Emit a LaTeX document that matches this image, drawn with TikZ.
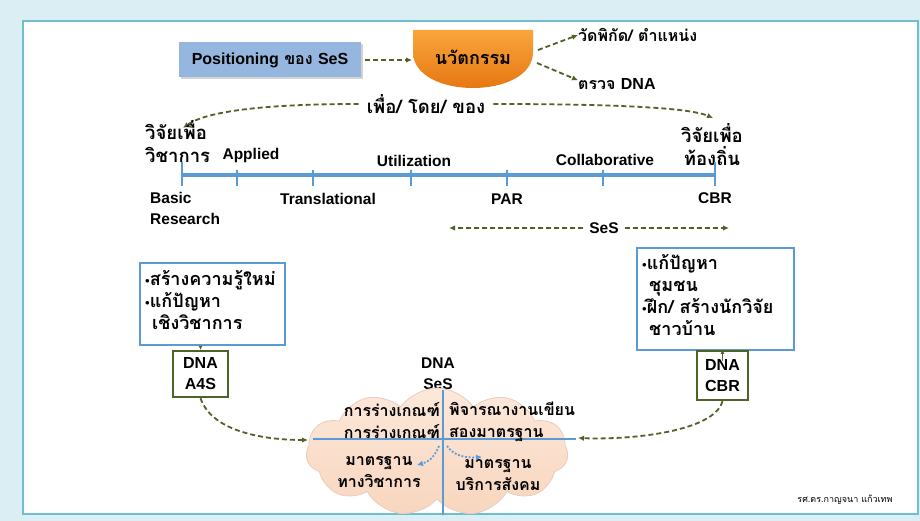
\documentclass[tikz,border=0pt]{standalone}
\usepackage{fontspec}
\setmainfont{Loma}[Script=Thai, BoldFont={Loma Bold}]
\newfontfamily\thinfont{Loma}[Script=Thai]
\newfontfamily\latf{Liberation Sans}
\newcommand{\la}[1]{{\latf\bfseries #1}}
\usetikzlibrary{arrows.meta,shapes.symbols,shadows}
\definecolor{bgblue}{RGB}{218,238,243}
\definecolor{frameteal}{RGB}{110,190,205}
\definecolor{dgreen}{RGB}{79,98,40}
\definecolor{lineblue}{RGB}{91,155,213}
\definecolor{boxblue}{RGB}{149,182,222}
\definecolor{orlight}{RGB}{250,165,60}
\definecolor{ordark}{RGB}{226,110,10}
\definecolor{peach}{RGB}{248,214,190}
\definecolor{peachlight}{RGB}{252,232,218}
\definecolor{cloudedge}{RGB}{232,205,190}
\newcommand{\bul}{{\fontsize{9}{9}\selectfont\raisebox{1.5pt}{$\bullet$}}}
\tikzset{
  lbl/.style={font=\bfseries\fontsize{16}{22}\selectfont, inner sep=0pt, text=black},
  big/.style={font=\bfseries\fontsize{18}{22}\selectfont},
  bigger/.style={font=\bfseries\fontsize{18.5}{23}\selectfont},
  llbl/.style={font=\latf\bfseries\fontsize{15.5}{21}\selectfont, inner sep=0pt, text=black},
  darr/.style={draw=dgreen, line width=1.8pt, dash pattern=on 5pt off 3pt, -{Latex[length=6pt,width=5.5pt]}},
  sarr/.style={draw=dgreen, line width=1.3pt, -{Latex[length=4pt,width=4pt]}},
  barr/.style={draw=lineblue, line width=1.8pt, dash pattern=on 1.8pt off 1.8pt, -{Latex[length=6pt,width=6pt]}},
  bluebox/.style={draw=lineblue, line width=2.4pt, fill=white, inner sep=0pt},
  greenbox/.style={draw=dgreen, line width=2.4pt, fill=white, inner sep=0pt, align=center, font=\latf\bfseries\fontsize{16}{21}\selectfont},
  tl/.style={draw=lineblue, line width=3.8pt},
  tick/.style={draw=lineblue, line width=2.8pt},
}
\begin{document}
\begin{tikzpicture}[x=1pt,y=-1pt]
\useasboundingbox (0,0) rectangle (920,521);
\fill[bgblue] (0,0) rectangle (920,521);
\fill[white, draw=frameteal, line width=1.3pt] (23,21) rectangle (918,514);

% top: positioning
\node[lbl, fill=boxblue, minimum width=182pt, minimum height=35pt, drop shadow={opacity=0.35, shadow xshift=1.5pt, shadow yshift=-1.5pt}] (pos) at (270,60) {\la{Positioning} ของ \la{SeS}};
\shade[top color=orlight, bottom color=ordark, draw=none]
  (413,30) -- (533,30) -- (533,52) .. controls (533,100) and (413,100) .. (413,52) -- cycle;
\node[lbl, big] (inno) at (473,57) {นวัตกรรม};
\coordinate (innoW) at (412,60);
\coordinate (innoNE) at (538,50);
\coordinate (innoSE) at (537,63);
\draw[darr] (pos.east) ++(4,0) -- (innoW);
\node[lbl, anchor=west] (t1) at (578,35) {วัดพิกัด/ ตำแหน่ง};
\node[lbl, anchor=west] (t2) at (578,84) {ตรวจ \la{DNA}};
\draw[darr] (innoNE) -- (t1.west);
\draw[darr] (innoSE) -- ([yshift=-2pt]t2.north west);

% purpose
\node[lbl, bigger] (via) at (426,104) {เพื่อ/ โดย/ ของ};
\coordinate (lvtop) at (183,128);
\coordinate (rvtop) at (713,118);
\draw[darr] ([xshift=-8pt]via.west) .. controls (260,104) and (205,112) .. (lvtop);
\draw[darr] ([xshift=8pt]via.east) .. controls (620,104) and (690,108) .. (rvtop);

\node[lbl, bigger, anchor=north west, align=left] (lv) at (145,120) {วิจัยเพื่อ\\วิชาการ};
\node[lbl, bigger, align=center] (rv) at (712,145) {วิจัยเพื่อ\\ท้องถิ่น};

% timeline
\draw[tl] (182,175) -- (715,175);
\foreach \x in {237,313,411,507,603} \draw[tick] (\x,170) -- (\x,186);
\draw[tick] (182,162) -- (182,186);
\draw[tick] (715,162) -- (715,186);

\node[llbl] (applied) at (251,155) {Applied};
\node[llbl] (util) at (414,161) {Utilization};
\node[llbl] (collab) at (605,160) {Collaborative};
\node[llbl, anchor=north west, align=left] (basic) at (150,192) {Basic\\Research};
\node[llbl] (trans) at (328,199) {Translational};
\node[llbl] (par) at (507,199) {PAR};
\node[llbl] (cbr) at (715,198) {CBR};

\node[llbl] (ses) at (604,228) {SeS};
\coordinate (sesL) at (449,228);
\coordinate (sesR) at (729,228);
\draw[darr] ([xshift=-6pt]ses.west) -- (sesL);
\draw[darr] ([xshift=6pt]ses.east) -- (sesR);

% left boxes
\node[bluebox, minimum width=145pt, minimum height=82pt] (lb) at (212.5,304) {};
\node[lbl, big, anchor=north west, align=left] (lbt) at (145,270) {\bul สร้างความรู้ใหม่\\\bul แก้ปัญหา\\\hspace*{7pt}เชิงวิชาการ};
\node[greenbox, minimum width=55pt, minimum height=46pt] (a4s) at (200.5,374) {DNA\\A4S};
\draw[sarr] (a4s.north |- lb.south) -- (a4s.north);

% right boxes
\node[bluebox, minimum width=157pt, minimum height=102pt] (rb) at (715.5,299) {};
\node[lbl, big, anchor=north west, align=left] (rbt) at (642,254) {\bul แก้ปัญหา\\\hspace*{7pt}ชุมชน\\\bul ฝึก/ สร้างนักวิจัย\\\hspace*{7pt}ชาวบ้าน};
\node[greenbox, minimum width=51pt, minimum height=49pt] (cbrbox) at (722.5,375.5) {DNA\\CBR};
\draw[sarr] ([yshift=-10pt]cbrbox.north |- rb.south) -- (cbrbox.north);

% cloud
\node[llbl, align=center] (dnases) at (438,374) {DNA\\SeS};
\node[cloud, cloud puffs=11, cloud puff arc=110, aspect=2.1, minimum width=262pt, minimum height=128pt,
      draw=cloudedge, line width=0.8pt, top color=peachlight, bottom color=peach] (cl) at (437,452) {};
\draw[draw=lineblue, line width=2.4pt] (443,390) -- (443,515);
\draw[draw=lineblue, line width=2.4pt] (313,439) -- (576,439);

\node[lbl, anchor=north east, align=right] (c1) at (440,402) {การร่างเกณฑ์\\การร่างเกณฑ์};
\node[lbl, anchor=north west, align=left] (c2) at (449,402) {พิจารณางานเขียน\\สองมาตรฐาน};
\node[lbl, align=center] (c3) at (379,472) {มาตรฐาน\\ทางวิชาการ};
\node[lbl, align=center] (c4) at (498,475) {มาตรฐาน\\บริการสังคม};
\coordinate (ctrL) at (439,446);
\coordinate (ctrR) at (447,446);
\coordinate (tipL) at (417,465);
\coordinate (tipR) at (482,457);
\draw[barr] (ctrL) .. controls (434,458) and (428,462) .. (tipL);
\draw[barr] (ctrR) .. controls (454,456) and (466,458) .. (tipR);

\draw[darr] (a4s.south) .. controls (212,432) and (265,440) .. (308,440);
\draw[darr] (cbrbox.south) .. controls (714,432) and (630,440) .. (578,438);

\node[font=\thinfont\fontsize{9}{11}\selectfont, inner sep=0pt] (author) at (845,500) {รศ.ดร.กาญจนา แก้วเทพ};
\end{tikzpicture}
\end{document}
